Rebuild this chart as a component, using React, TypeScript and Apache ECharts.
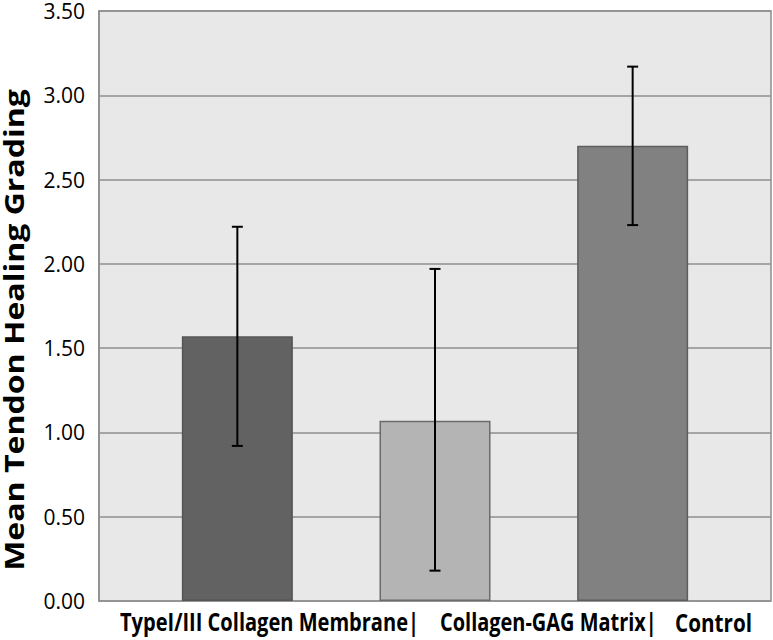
import React, { useEffect, useRef } from "react";
import * as echarts from "echarts";

const categories = ["TypeI/III Collagen Membrane|", "Collagen-GAG Matrix|", "Control"];
const means = [1.57, 1.07, 2.7];
const errUpper = [2.22, 1.97, 3.17];
const errLower = [0.92, 0.18, 2.23];
const barColors = ["#626262", "#b4b4b4", "#818181"];
const barBorders = ["#555555", "#6a6a6a", "#5e5e5e"];
const yTitle = "Mean Tendon Healing Grading";

// layout (pixels) for the category captions under the axis
const labelLeft = [120, 440, 675];
const labelWidth = [299, 217, 77];

function measure(text: string, font: string): number {
  const c = document.createElement("canvas");
  const ctx = c.getContext("2d");
  if (!ctx) return text.length * 10;
  ctx.font = font;
  return ctx.measureText(text).width;
}

export default function App() {
  const ref = useRef<HTMLDivElement>(null);
  useEffect(() => {
    if (!ref.current) return;
    const chart = echarts.init(ref.current, undefined, { renderer: "svg" });
    const labelFontSize = 25;
    const labelFamily = '"Open Sans", sans-serif';
    const titleFontSize = 26;
    const titleWidth = measure(yTitle, `bold ${titleFontSize}px "Open Sans"`);
    const titleScale = 482 / titleWidth;

    const labelGraphics = categories.map((c, i) => {
      const w = measure(c, `bold ${labelFontSize}px "Open Sans"`);
      return {
        type: "text",
        x: labelLeft[i],
        y: 622,
        scaleX: labelWidth[i] / w,
        style: {
          text: c,
          font: `bold ${labelFontSize}px ${labelFamily}`,
          fill: "#000",
          align: "left",
          verticalAlign: "middle",
        },
      };
    });

    chart.setOption({
      animation: false,
      grid: {
        left: 99,
        right: 2,
        top: 11,
        bottom: 39,
        show: true,
        backgroundColor: "#e8e8e8",
        borderColor: "#8c8c8c",
        borderWidth: 1.5,
      },
      xAxis: {
        type: "value",
        min: -0.7,
        max: 2.7,
        axisLine: { show: false },
        axisTick: { show: false },
        axisLabel: { show: false },
        splitLine: { show: false },
      },
      yAxis: {
        type: "value",
        min: 0,
        max: 3.5,
        interval: 0.5,
        axisLine: { show: true, onZero: false, lineStyle: { color: "#8c8c8c", width: 1.5 } },
        axisTick: { show: false },
        axisLabel: {
          margin: 14,
          fontSize: 21,
          color: "#000",
          fontFamily: '"Open Sans", sans-serif',
          formatter: (v: number) => v.toFixed(2),
        },
        splitLine: { show: true, lineStyle: { color: "#8f8f8f", width: 1.5 } },
      },
      graphic: [
        {
          type: "text",
          x: 14,
          y: 330,
          rotation: Math.PI / 2,
          scaleX: titleScale,
          style: {
            text: yTitle,
            font: `bold ${titleFontSize}px "Open Sans", sans-serif`,
            fill: "#000",
            align: "center",
            verticalAlign: "middle",
          },
        },
        ...labelGraphics,
      ],
      series: [
        {
          type: "bar",
          barWidth: 111,
          data: means.map((m, i) => ({
            value: [i, m],
            itemStyle: { color: barColors[i], borderColor: barBorders[i], borderWidth: 1.5 },
          })),
        },
        {
          type: "custom",
          data: means.map((_, i) => [i, errLower[i], errUpper[i]]),
          encode: { x: 0, y: [1, 2] },
          z: 10,
          renderItem: (params: any, api: any) => {
            const x = api.value(0);
            const lo = api.coord([x, api.value(1)]);
            const hi = api.coord([x, api.value(2)]);
            const hw = 5.5;
            const st = { stroke: "#000", lineWidth: 2 };
            return {
              type: "group",
              children: [
                { type: "line", shape: { x1: lo[0], y1: lo[1], x2: hi[0], y2: hi[1] }, style: st },
                { type: "line", shape: { x1: lo[0] - hw, y1: lo[1], x2: lo[0] + hw, y2: lo[1] }, style: st },
                { type: "line", shape: { x1: hi[0] - hw, y1: hi[1], x2: hi[0] + hw, y2: hi[1] }, style: st },
              ],
            };
          },
        },
      ],
    });
    return () => chart.dispose();
  }, []);
  return <div ref={ref} style={{ width: 773, height: 640, position: "absolute", left: 0, top: 0 }} />;
}
